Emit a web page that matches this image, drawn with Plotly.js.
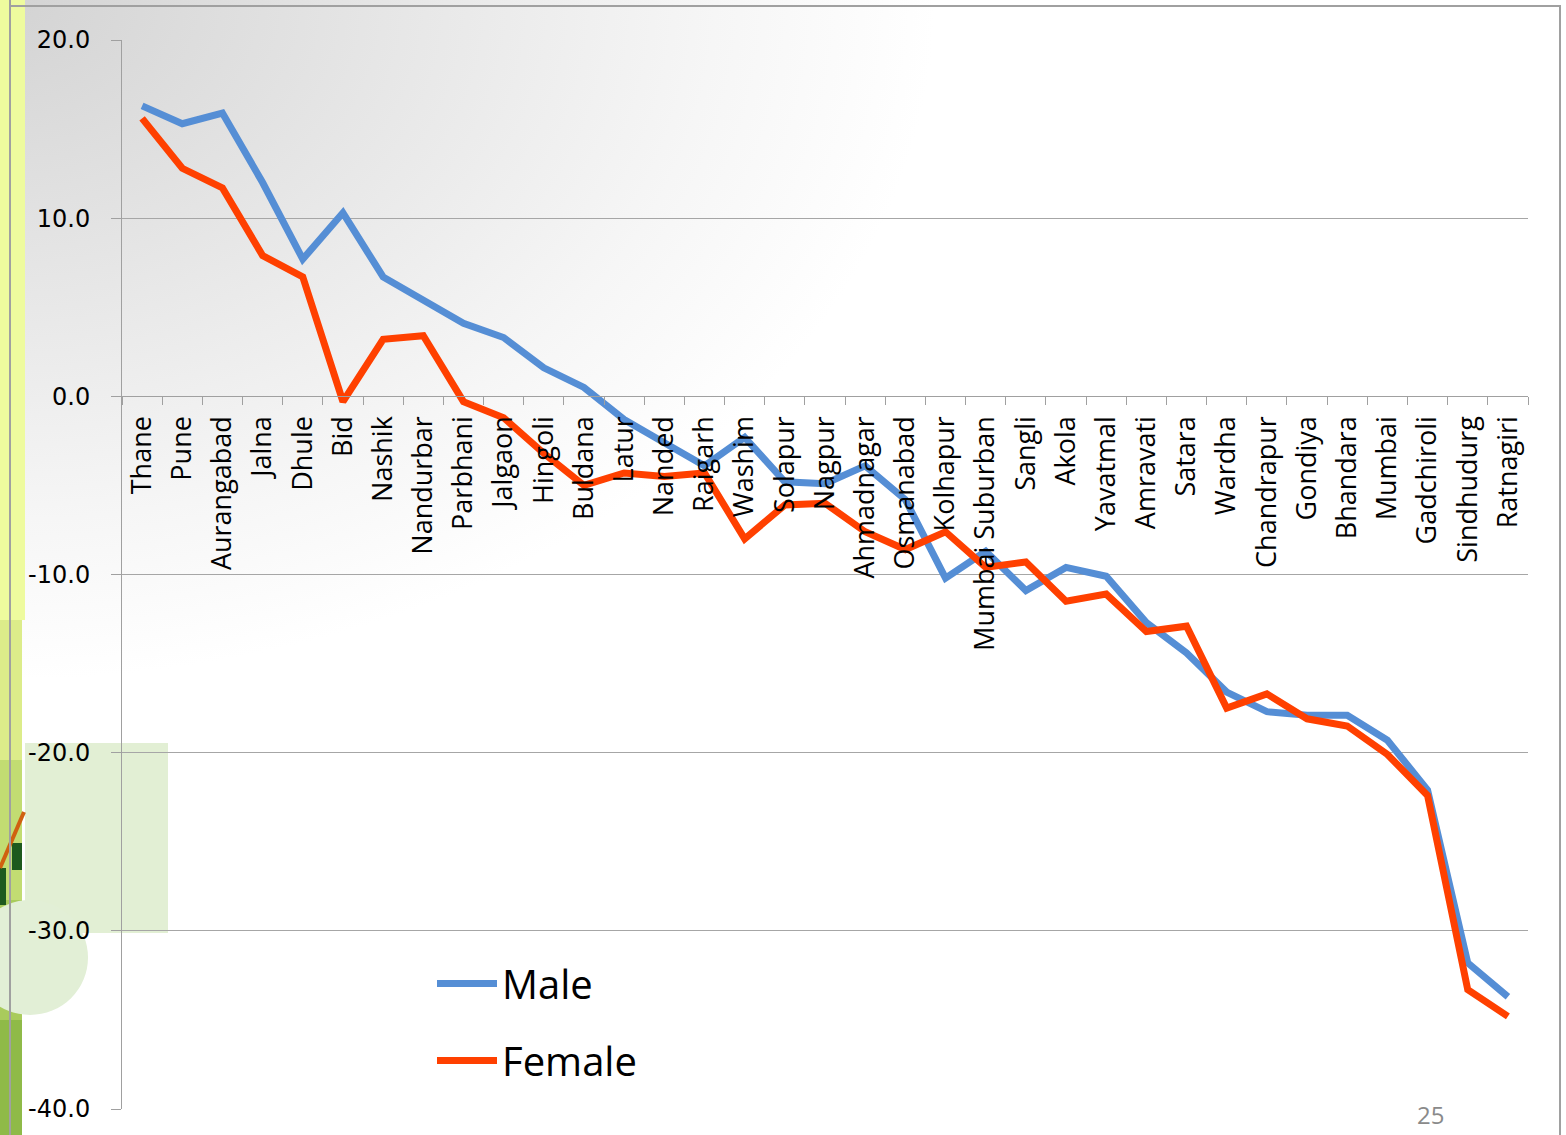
<!DOCTYPE html>
<html>
<head>
<meta charset="utf-8">
<script src="https://cdn.plot.ly/plotly-3.0.1.min.js"></script>
<style>
  html, body { margin: 0; padding: 0; }
  body {
    width: 1566px; height: 1135px; overflow: hidden;
    background: radial-gradient(ellipse 1100px 800px at 0px 0px, #d3d3d3 0%, #e6e6e6 35%, #f6f6f6 65%, #ffffff 85%);
  }
  #chart { width: 1566px; height: 1135px; }
</style>
</head>
<body>
<div id="chart"></div>
<script>
const districts = ["Thane","Pune","Aurangabad","Jalna","Dhule","Bid","Nashik","Nandurbar","Parbhani","Jalgaon","Hingoli","Buldana","Latur","Nanded","Raigarh","Washim","Solapur","Nagpur","Ahmadnagar","Osmanabad","Kolhapur","Mumbai Suburban","Sangli","Akola","Yavatmal","Amravati","Satara","Wardha","Chandrapur","Gondiya","Bhandara","Mumbai","Gadchiroli","Sindhudurg","Ratnagiri"];
const male = [16.3, 15.3, 15.9, 12.0, 7.7, 10.3, 6.7, 5.4, 4.1, 3.3, 1.6, 0.5, -1.3, -2.6, -3.9, -2.3, -4.8, -4.9, -3.9, -5.8, -10.2, -8.7, -10.9, -9.6, -10.1, -12.7, -14.4, -16.6, -17.7, -17.9, -17.9, -19.3, -22.1, -31.8, -33.7];
const female = [15.6, 12.8, 11.7, 7.9, 6.7, -0.3, 3.2, 3.4, -0.3, -1.2, -3.2, -5.0, -4.3, -4.5, -4.3, -8.0, -6.1, -6.0, -7.6, -8.6, -7.6, -9.6, -9.3, -11.5, -11.1, -13.2, -12.9, -17.5, -16.7, -18.1, -18.5, -20.1, -22.4, -33.3, -34.8];
const yTicks = [20, 10, 0, -10, -20, -30, -40];
const yTickText = ["20.0", "10.0", "0.0", "-10.0", "-20.0", "-30.0", "-40.0"];
const seriesNames = ["Male", "Female"];
const pageNumber = "25";

// layout geometry (pixels)
const W = 1566, H = 1135, L = 122, R = 38, T = 40, B = 26;
const PW = W - L - R, PH = H - T - B;
const px = x => (x - L) / PW;
const py = y => (H - B - y) / PH;

function rect(x0, y0, x1, y1, color, layer) {
  return {type: 'rect', xref: 'paper', yref: 'paper', x0: px(x0), x1: px(x1), y0: py(y1), y1: py(y0),
          fillcolor: color, line: {width: 0}, layer: layer || 'below'};
}
function line(x0, y0, x1, y1, color, w) {
  return {type: 'line', xref: 'paper', yref: 'paper', x0: px(x0), x1: px(x1), y0: py(y0), y1: py(y1),
          line: {color: color, width: w}, layer: 'below'};
}

const shapes = [
  rect(0, 0, 25, 620, '#eefb9e'),
  rect(0, 620, 22, 760, '#dcec8a'),
  rect(0, 760, 22, 900, '#c2dc72'),
  rect(0, 900, 22, 1020, '#a9cb5c'),
  rect(0, 1020, 22, 1135, '#8fba48'),
  rect(25, 743, 168, 933, '#e2efd4'),
  {type: 'circle', xref: 'paper', yref: 'paper', x0: px(-28), x1: px(88), y0: py(1015), y1: py(900),
   fillcolor: '#e2efd6', line: {width: 0}, layer: 'below'},
  rect(12, 843, 22, 870, '#1e5a1e'),
  rect(0, 868, 6, 905, '#1e5a1e'),
  line(0, 868, 24, 812, '#d06010', 4),
  line(10, 0, 10, 1135, '#a0a0a0', 2),
  line(10, 6, 1561, 6, '#a0a0a0', 2),
  line(1560, 6, 1560, 1135, '#a0a0a0', 2)
];

const traces = [
  {x: districts, y: male, name: seriesNames[0], type: 'scatter', mode: 'lines', legendgroup: 'm',
   line: {color: '#558ed5', width: 7}},
  {x: districts, y: female, name: seriesNames[1], type: 'scatter', mode: 'lines', legendgroup: 'f',
   line: {color: '#ff4000', width: 7}}
];

const layout = {
  width: W, height: H,
  margin: {l: L, r: R, t: T, b: B},
  paper_bgcolor: 'rgba(0,0,0,0)',
  plot_bgcolor: 'rgba(0,0,0,0)',
  showlegend: true,
  legend: {x: px(432), y: py(951), xanchor: 'left', yanchor: 'top', bgcolor: 'rgba(0,0,0,0)',
           font: {family: 'Open Sans', size: 40, color: '#000'}, tracegroupgap: 22, traceorder: 'grouped',
           itemwidth: 60},
  xaxis: {
    type: 'category', range: [-0.5, districts.length - 0.5], anchor: 'free', position: 2/3, side: 'bottom',
    showline: true, linecolor: '#a0a0a0', linewidth: 1,
    ticks: 'outside', ticklen: 8, tickcolor: '#a0a0a0', tickson: 'boundaries',
    tickangle: -90, ticklabelstandoff: 8,
    tickfont: {family: 'Open Sans', size: 27, color: '#000'},
    showgrid: false, zeroline: false, fixedrange: true
  },
  yaxis: {
    range: [-40, 20], tickvals: yTicks, ticktext: yTickText,
    showline: true, linecolor: '#a0a0a0', linewidth: 1,
    ticks: 'outside', ticklen: 10, tickcolor: '#a0a0a0',
    showgrid: true, gridcolor: '#a6a6a6', gridwidth: 1, zeroline: false,
    ticklabelstandoff: 16,
    tickfont: {family: 'DejaVu Sans', size: 24, color: '#000'}
  },
  shapes: shapes,
  annotations: [
    {text: pageNumber, xref: 'paper', yref: 'paper', x: px(1430), y: py(1114), xanchor: 'center', yanchor: 'middle',
     showarrow: false, borderpad: 0, font: {family: 'Open Sans', size: 24, color: '#8a8a8a'}}
  ]
};

Plotly.newPlot('chart', traces, layout, {displayModeBar: false, staticPlot: true});
</script>
</body>
</html>
